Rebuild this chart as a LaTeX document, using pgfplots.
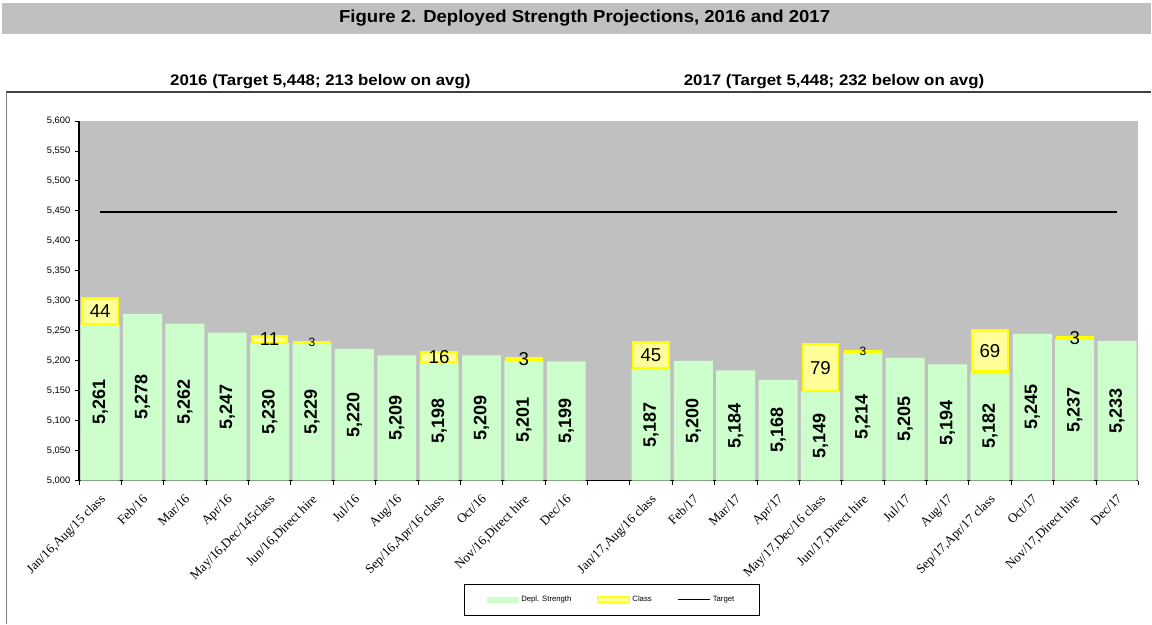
\documentclass[border=0pt]{standalone}
\usepackage{fontspec}
\setmainfont{Liberation Sans}
\newfontfamily\serif{Liberation Serif}
\usepackage{pgfplots}
\pgfplotsset{compat=1.18}
\usepackage{pgfplotstable}
\definecolor{bg}{HTML}{C0C0C0}
\definecolor{deplgreen}{HTML}{CCFFCC}
\definecolor{classfill}{HTML}{FFFF99}
\definecolor{classedge}{HTML}{FFFF00}

\pgfplotstableread{
x v c
0 5261 44
1 5278 0
2 5262 0
3 5247 0
4 5230 11
5 5229 3
6 5220 0
7 5209 0
8 5198 16
9 5209 0
10 5201 3
11 5199 0
13 5187 45
14 5200 0
15 5184 0
16 5168 0
17 5149 79
18 5214 3
19 5205 0
20 5194 0
21 5182 69
22 5245 0
23 5237 3
24 5233 0
}\data

\pgfplotstableread{
x v c
0 5261 44
4 5230 11
8 5198 16
10 5201 3
13 5187 45
17 5149 79
21 5182 69
23 5237 3
}\classbig

\pgfplotstableread{
x v c
5 5229 3
18 5214 3
}\classsmall

\begin{document}
\begin{tikzpicture}
\path (0,0) rectangle (864pt,468pt);
\fill[bg] (1.5pt,442.5pt) rectangle (864pt,465.75pt);
\node[font=\bfseries\fontsize{13}{15}\selectfont] at (438.75pt,454.5pt) {\scalebox{1.07}[1]{Figure 2. Deployed Strength Projections, 2016 and 2017}};
\node[font=\bfseries\fontsize{11.5}{13}\selectfont] at (240.4pt,406.5pt) {\scalebox{1.1}[1]{2016 (Target 5,448; 213 below on avg)}};
\node[font=\bfseries\fontsize{11.5}{13}\selectfont] at (625.9pt,406.5pt) {\scalebox{1.1}[1]{2017 (Target 5,448; 232 below on avg)}};
\draw[black!75, line width=1.1pt] (4.5pt,399pt) -- (864pt,399pt);
\draw[gray, line width=0.6pt] (5pt,0pt) -- (5pt,399pt);
\begin{axis}[
  at={(59.25pt,107.25pt)}, anchor=south west,
  width=795pt, height=270pt, scale only axis,
  xmin=-0.5, xmax=24.5, ymin=5000, ymax=5600,
  axis background/.style={fill=bg},
  axis x line*=bottom, axis y line*=left,
  axis line style={line width=0.9pt, black, -},
  tick align=outside,
  major tick length=3pt,
  tick style={black, line width=0.6pt},
  xtick={-0.5,0.5,...,24.5}, xticklabels={},
  extra x ticks={0,1,...,11,13,14,...,24},
  extra x tick labels={{Jan/16,Aug/15 class},{Feb/16},{Mar/16},{Apr/16},{May/16,Dec/145class},{Jun/16,Direct hire},{Jul/16},{Aug/16},{Sep/16,Apr/16 class},{Oct/16},{Nov/16,Direct hire},{Dec/16},{Jan/17,Aug/16 class},{Feb/17},{Mar/17},{Apr/17},{May/17,Dec/16 class},{Jun/17,Direct hire},{Jul/17},{Aug/17},{Sep/17,Apr/17 class},{Oct/17},{Nov/17,Direct hire},{Dec/17}},
  extra x tick style={major tick length=0pt},
  xticklabel style={font=\serif\fontsize{9.8}{9.8}\selectfont, yshift=-8pt, xshift=-0.5pt, rotate=45, anchor=north east, inner sep=1pt},
  ytick={5000,5050,...,5600},
  yticklabel style={font=\fontsize{7}{7}\selectfont},
  /pgf/number format/1000 sep={,},
  /pgf/number format/assume math mode=true,
  legend columns=3,
  legend cell align=left,
  legend style={at={(0.503,-0.331)}, anchor=center, draw=black, line width=0.7pt, fill=white,
    font=\fontsize{5.8}{6}\selectfont, inner xsep=17pt, inner ysep=7pt,
    /tikz/every even column/.append style={column sep=17pt}},
]
\addplot[ybar, bar width=0.92, bar shift=0pt, stack plots=y, fill=deplgreen, draw=none,
  legend image code/.code={\fill[deplgreen] (0pt,-2.25pt) rectangle (24pt,2.25pt);}]
  table[x=x, y=v]{\data};
\addlegendentry{Depl. Strength}
\addplot[ybar, bar width=0.84, bar shift=0pt, stack plots=y, stacked ignores zero, fill=classfill, draw=classedge, line width=1.6pt,
  legend image code/.code={\draw[classedge, fill=classfill, line width=0.8pt] (0pt,-2.25pt) rectangle (24pt,2.25pt);}]
  table[x=x, y=c]{\data};
\addlegendentry{Class}
\addplot[black, line width=1.4pt, mark=none,
  legend image code/.code={\draw[black, line width=0.8pt] (0pt,0pt) -- (24pt,0pt);}]
  coordinates {(0,5448) (24,5448)};
\addlegendentry{Target}
\addplot[forget plot, only marks, mark=*, mark size=0pt, mark options={draw=none, fill=none},
  point meta=\thisrow{v}, nodes near coords,
  every node near coord/.append style={rotate=90, anchor=center, text=black, font=\bfseries\fontsize{13.5}{13.5}\selectfont}]
  table[x=x, y expr={(\thisrow{v}+5000)/2}]{\data};
\addplot[forget plot, only marks, mark=*, mark size=0pt, mark options={draw=none, fill=none},
  point meta=\thisrow{c}, nodes near coords,
  every node near coord/.append style={anchor=center, text=black, font=\fontsize{14}{14}\selectfont}]
  table[x=x, y expr={\thisrow{v}+\thisrow{c}/2}]{\classbig};
\addplot[forget plot, only marks, mark=*, mark size=0pt, mark options={draw=none, fill=none},
  point meta=\thisrow{c}, nodes near coords,
  every node near coord/.append style={anchor=center, text=black, font=\fontsize{9}{9}\selectfont}]
  table[x=x, y expr={\thisrow{v}+\thisrow{c}/2}]{\classsmall};
\end{axis}
\end{tikzpicture}
\end{document}
